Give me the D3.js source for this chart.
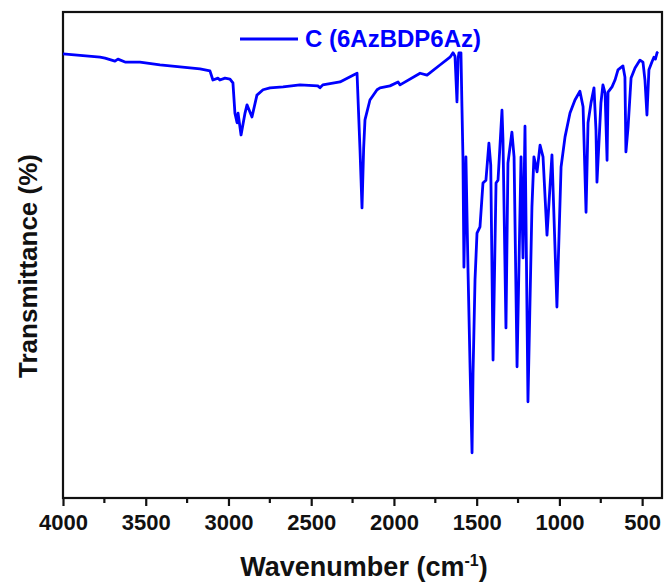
<!DOCTYPE html>
<html>
<head>
<meta charset="utf-8">
<script src="https://d3js.org/d3.v7.min.js"></script>
<style>
    body { margin: 0; background: #fff; }
    text { font-family: "Liberation Sans", Arial, sans-serif; font-weight: bold; }
</style>
</head>
<body>
<svg width="664" height="586"></svg>
<script>
// IR spectrum: wavenumber (cm-1) and transmittance (%)
const wavenumber = [
    4000, 3776, 3746, 3686, 3668, 3625, 3535, 3414, 3293, 3172, 3112, 3094, 3063, 3052, 3021, 2991,
    2973, 2961, 2948, 2942, 2924, 2900, 2888, 2858, 2828, 2791, 2749, 2670, 2568, 2460, 2447, 2430,
    2326, 2247, 2223, 2205, 2193, 2183, 2175, 2145, 2102, 2084, 2024, 1975, 1963, 1842, 1800, 1722,
    1661, 1643, 1631, 1619, 1612, 1607, 1595, 1589, 1583, 1577, 1565, 1552, 1540, 1528, 1522, 1510,
    1498, 1480, 1462, 1444, 1426, 1415, 1401, 1383, 1371, 1347, 1341, 1323, 1311, 1287, 1274, 1256,
    1232, 1220, 1208, 1190, 1166, 1154, 1135, 1117, 1099, 1075, 1045, 1015, 990, 966, 936, 906,
    876, 857, 839, 827, 809, 791, 779, 773, 749, 737, 724, 712, 706, 682, 664, 646,
    616, 604, 598, 585, 567, 543, 513, 495, 483, 471, 459, 441, 429, 420, 410, 404
];
const transmittance = [
    91.4, 90.7, 90.5, 89.9, 90.3, 89.7, 89.7, 89.1, 88.7, 88.3, 87.9, 86.0, 86.4, 86.0, 86.4, 86.2,
    85.4, 79.2, 77.2, 79.2, 74.7, 79.2, 80.9, 78.4, 82.9, 84.0, 84.4, 84.6, 85.0, 84.8, 84.4, 85.0,
    85.6, 87.0, 87.4, 71.6, 59.7, 72.0, 77.8, 81.9, 84.0, 84.4, 84.8, 85.6, 85.0, 87.4, 87.0, 89.1,
    90.7, 91.6, 90.9, 81.5, 90.5, 91.6, 91.6, 80.5, 70.2, 47.5, 70.2, 46.3, 27.0, 9.3, 25.7, 44.9,
    54.5, 55.8, 64.8, 65.4, 73.0, 68.5, 28.4, 64.8, 65.4, 79.8, 73.7, 35.0, 68.9, 75.3, 70.2, 27.0,
    70.2, 49.4, 76.5, 19.8, 59.9, 70.2, 67.1, 72.6, 70.2, 54.1, 70.6, 39.3, 68.1, 74.3, 79.2, 81.9,
    83.7, 80.5, 58.8, 77.2, 81.3, 84.4, 75.7, 65.0, 81.3, 85.0, 83.3, 69.5, 83.5, 84.6, 86.0, 88.1,
    88.9, 86.6, 71.2, 76.3, 86.4, 88.5, 90.1, 89.7, 86.0, 78.8, 88.1, 89.7, 90.7, 90.3, 91.6, 91.8
];
const xTicks = [4000, 3500, 3000, 2500, 2000, 1500, 1000, 500];
const seriesName = "C (6AzBDP6Az)";

const svg = d3.select("svg");
const mLeft = 63, mRight = 662, mTop = 12, mBottom = 498;

const x = d3.scaleLinear().domain([4000, 380]).range([mLeft, mRight]);
const y = d3.scaleLinear().domain([0, 100]).range([mBottom, mTop]);

const pts = wavenumber.map((w, i) => [w, transmittance[i]]);

// frame
svg.append("rect")
    .attr("x", mLeft).attr("y", mTop)
    .attr("width", mRight - mLeft).attr("height", mBottom - mTop)
    .attr("fill", "none").attr("stroke", "#111").attr("stroke-width", 2.2);

// spectrum
svg.append("path")
    .datum(pts)
    .attr("fill", "none")
    .attr("stroke", "#0000ff")
    .attr("stroke-width", 2.8)
    .attr("stroke-linejoin", "round")
    .attr("d", d3.line().x(d => x(d[0])).y(d => y(d[1])));

// bottom axis
const xAxis = d3.axisBottom(x).tickValues(xTicks).tickFormat(d3.format("d"))
    .tickSize(8).tickSizeOuter(0).tickPadding(8);
const gx = svg.append("g").attr("transform", `translate(0,${mBottom})`).call(xAxis);
gx.select(".domain").remove();
gx.selectAll(".tick line").attr("stroke", "#111").attr("stroke-width", 2.2);
gx.selectAll(".tick text").attr("fill", "#111").style("font-size", "22px").style("font-family", "Liberation Sans, Arial, sans-serif").style("font-weight", "bold");

// minor ticks
svg.append("g").selectAll("line")
    .data(xTicks.map(t => t - 250).filter(t => t > 380))
    .join("line")
    .attr("x1", d => x(d)).attr("x2", d => x(d))
    .attr("y1", mBottom).attr("y2", mBottom + 5)
    .attr("stroke", "#111").attr("stroke-width", 2.2);

// axis titles
const xt = svg.append("text")
    .attr("x", 364).attr("y", 576)
    .attr("text-anchor", "middle")
    .attr("fill", "#111")
    .style("font-size", "27px");
xt.append("tspan").text("Wavenumber (cm");
xt.append("tspan").attr("dy", -10).style("font-size", "16px").text("-1");
xt.append("tspan").attr("dy", 10).text(")");

svg.append("text")
    .attr("transform", `translate(37,266) rotate(-90)`)
    .attr("text-anchor", "middle")
    .attr("fill", "#111")
    .style("font-size", "26px")
    .text("Transmittance (%)");

// legend
svg.append("line")
    .attr("x1", 240).attr("x2", 298).attr("y1", 39).attr("y2", 39)
    .attr("stroke", "#0000ff").attr("stroke-width", 2.8);
svg.append("text")
    .attr("x", 305).attr("y", 47)
    .attr("fill", "#0000ff")
    .style("font-size", "24px")
    .text(seriesName);
</script>
</body>
</html>
